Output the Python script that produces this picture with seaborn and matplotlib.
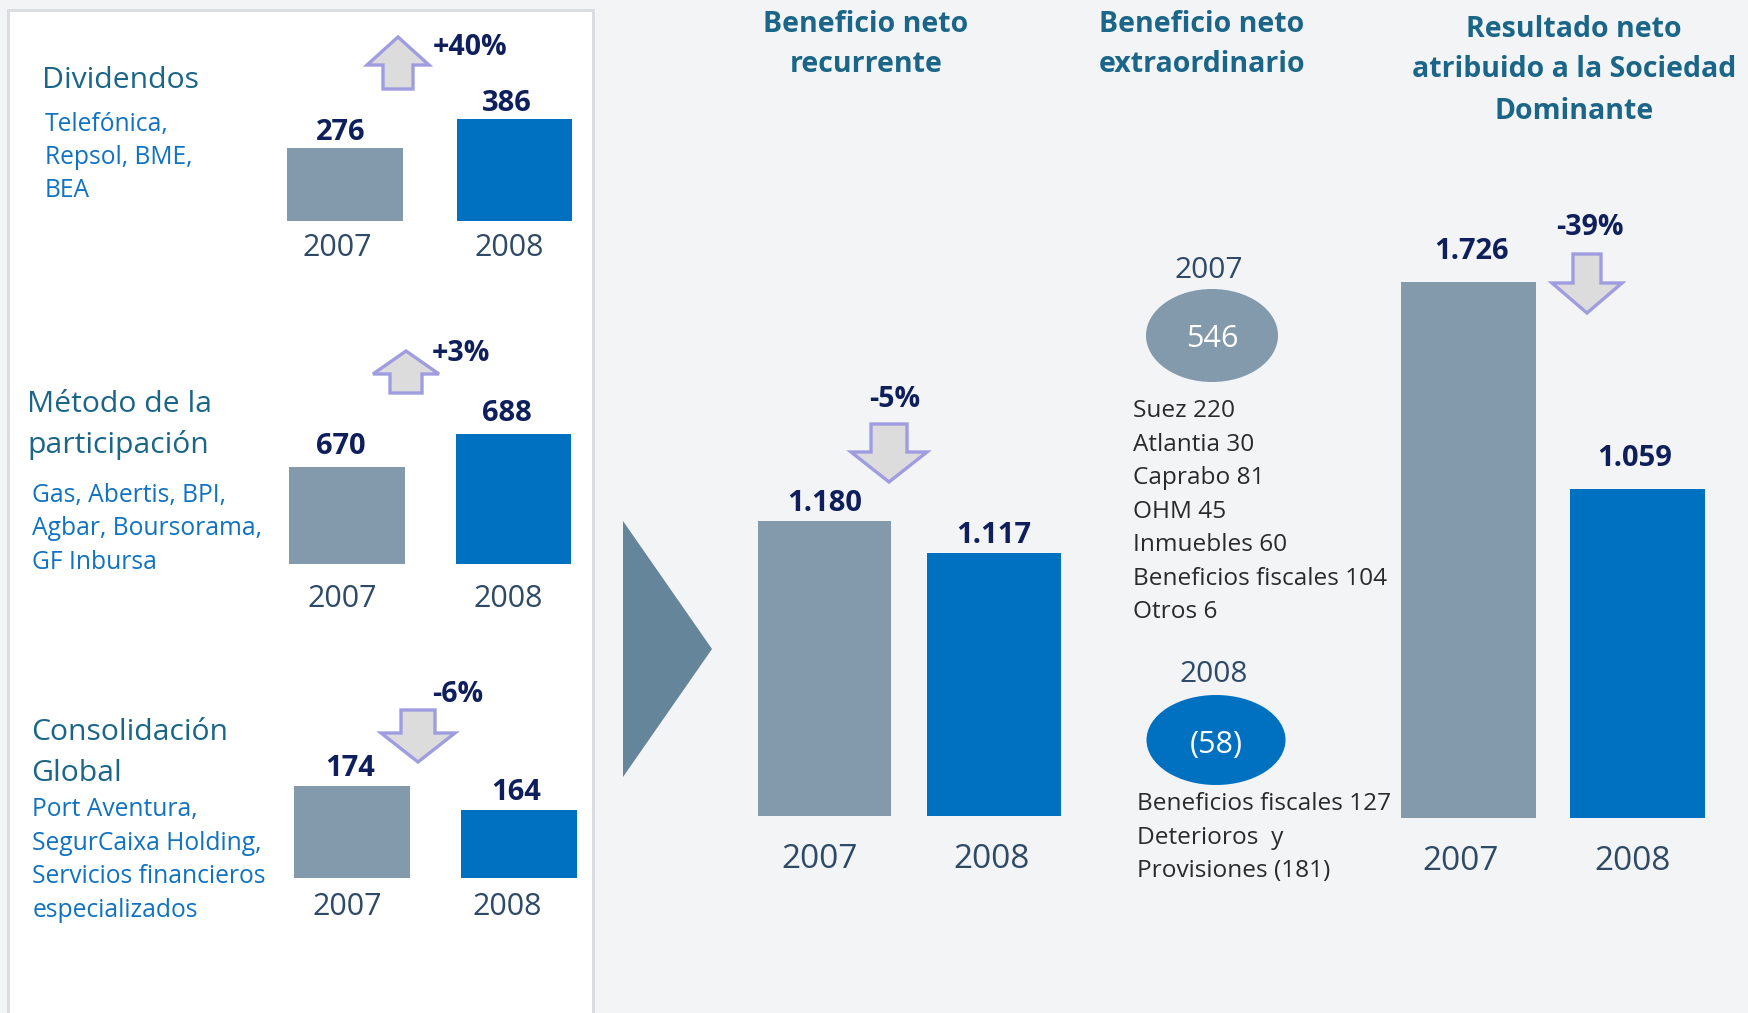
import matplotlib
matplotlib.use("Agg")
import matplotlib.pyplot as plt
import matplotlib.transforms as mtransforms
import seaborn as sns
import pandas as pd
from matplotlib.patches import Rectangle, Polygon, Ellipse

# ---------------- data ----------------
years = ["2007", "2008"]
dividendos = [276, 386]
metodo_participacion = [670, 688]
consolidacion_global = [174, 164]
beneficio_recurrente = [1180, 1117]
resultado_neto = [1726, 1059]
beneficio_extraordinario = [546, -58]

dividendos_title = ["Dividendos"]
dividendos_companies = ["Telefónica,", "Repsol, BME,", "BEA"]
metodo_title = ["Método de la", "participación"]
metodo_companies = ["Gas, Abertis, BPI,", "Agbar, Boursorama,", "GF Inbursa"]
consolidacion_title = ["Consolidación", "Global"]
consolidacion_companies = ["Port Aventura,", "SegurCaixa Holding,",
                           "Servicios financieros", "especializados"]
recurrente_title = ["Beneficio neto", "recurrente"]
extraordinario_title = ["Beneficio neto", "extraordinario"]
resultado_title = ["Resultado neto", "atribuido a la Sociedad", "Dominante"]
extra_detail_2007 = ["Suez 220", "Atlantia 30", "Caprabo 81", "OHM 45",
                     "Inmuebles 60", "Beneficios fiscales 104", "Otros 6"]
extra_detail_2008 = ["Beneficios fiscales 127", "Deterioros  y", "Provisiones (181)"]

# ---------------- style ----------------
GREY = "#8399AC"
BLUE = "#0070C0"
NAVY = "#0F1F5C"
YEARC = "#2F4A66"
TEAL = "#1B6688"
COMP = "#1072C0"
DARK = "#2A2A2A"
BG = "#F2F4F6"
ARROW_FACE = "#DCDCDC"
ARROW_EDGE = "#9F9DE0"

sns.set_theme(style="white")
plt.rcParams["font.family"] = ["Open Sans", "DejaVu Sans"]

W, H = 1749, 1013
fig = plt.figure(figsize=(W / 100, H / 100), dpi=100)
fig.patch.set_facecolor(BG)


def overlay(z):
    ax = fig.add_axes([0, 0, 1, 1], zorder=z)
    ax.set_xlim(0, W)
    ax.set_ylim(H, 0)
    ax.axis("off")
    return ax


back = overlay(0)
front = overlay(3)

# left white panel
back.add_patch(Rectangle((8, 10), 585, 1020, facecolor="white",
                         edgecolor="#D8DBDF", lw=2))
# chevron triangle
back.add_patch(Polygon([(623, 521), (712, 649), (623, 777)], closed=True,
                       facecolor="#64859A", edgecolor="none"))


def es_fmt(v):
    return f"{v:,.0f}".replace(",", ".")


def pct_label(vals):
    p = round((vals[1] / vals[0] - 1) * 100)
    return f"{p:+d}%"


def bar_panel(values, ca, cb, base, k, v0, hpx, wf, lab_pad, tick_pad,
              vsize, ysize, year_dx, val_dx):
    d = cb - ca
    left = ca - 0.5 * d
    ax = fig.add_axes([left / W, 1 - base / H, 2 * d / W, hpx / H], zorder=2)
    df = pd.DataFrame({"Año": years, "Valor": values})
    sns.barplot(data=df, x="Año", y="Valor", hue="Año", order=years,
                hue_order=years, palette={years[0]: GREY, years[1]: BLUE},
                width=wf, legend=False, ax=ax, linewidth=0, saturation=1)
    ax.set_xlim(-0.5, 1.5)
    ax.set_ylim(v0, v0 + hpx / k)
    for c, dx in zip(ax.containers, val_dx):
        anns = ax.bar_label(c, fmt=es_fmt, padding=lab_pad, fontsize=vsize,
                            fontweight="bold", color=NAVY)
        for a in anns:
            a.xyann = (dx / 1.389, lab_pad)
    ax.tick_params(axis="x", length=0, pad=tick_pad, labelsize=ysize,
                   labelcolor=YEARC)
    ax.set_yticks([])
    ax.set_xlabel("")
    ax.set_ylabel("")
    for s in ax.spines.values():
        s.set_visible(False)
    ax.patch.set_alpha(0)
    for lab, dx in zip(ax.get_xticklabels(), year_dx):
        off = mtransforms.ScaledTranslation(dx / 100, 0, fig.dpi_scale_trans)
        lab.set_transform(lab.get_transform() + off)
    return ax


bar_panel(dividendos, 345, 514.5, 221, 0.2643, 0, 200, 0.681, 1, 8.7, 21, 22,
          (-8, -5.5), (-4.5, -7.5))
bar_panel(metodo_participacion, 347, 513.5, 564, 1.833, 617.1, 200, 0.694, 4, 14.5, 21, 22,
          (-4.5, -5.5), (-6.4, -6.5))
bar_panel(consolidacion_global, 352, 519, 878, 2.4, 135.67, 200, 0.689, 2, 10.2, 21, 22,
          (-4.5, -12), (-2, -2.4))
bar_panel(beneficio_recurrente, 824.5, 994, 816, 0.5079, 599.2, 400, 0.788, 2.4, 19.4, 21, 24,
          (-4.5, -2), (0, 0))
bar_panel(resultado_neto, 1468.5, 1637.5, 818, 0.3106, 0, 600, 0.793, 11.7, 19.4, 21, 24,
          (-7.5, -4.5), (2.5, -2.5))


def block_arrow(cx, tail, head, tip, hh, sh):
    pts = [(cx - sh, tail), (cx - sh, head), (cx - hh, head), (cx, tip),
           (cx + hh, head), (cx + sh, head), (cx + sh, tail)]
    front.add_patch(Polygon(pts, closed=True, facecolor=ARROW_FACE,
                            edgecolor=ARROW_EDGE, lw=2.4, joinstyle="miter"))


def change_marker(vals, cx, top, bottom, hh, sh, head_len, lx, ly, ha):
    if vals[1] >= vals[0]:
        block_arrow(cx, bottom, top + head_len, top, hh, sh)
    else:
        block_arrow(cx, top, bottom - head_len, bottom, hh, sh)
    front.text(lx, ly, pct_label(vals), ha=ha, va="baseline", fontsize=20.5,
               fontweight="bold", color=NAVY)


change_marker(dividendos, 398, 37, 89, 31, 15, 28, 433, 55, "left")
change_marker(metodo_participacion, 406, 351, 393, 33, 16, 23, 432, 361, "left")
change_marker(consolidacion_global, 418, 710, 762, 37, 17, 29, 432, 702, "left")
change_marker(beneficio_recurrente, 889, 424, 482, 38, 18, 30, 895, 407, "center")
change_marker(resultado_neto, 1587, 254, 313, 35, 14, 30, 1590, 235, "center")


def lines(x, baselines, texts, size, color, weight="normal", ha="left"):
    for y, t in zip(baselines, texts):
        front.text(x, y, t, ha=ha, va="baseline", fontsize=size,
                   fontweight=weight, color=color)


# left panel texts
lines(42, [88], dividendos_title, 21.7, TEAL)
lines(45, [131, 164, 197], dividendos_companies, 17.7, COMP)
lines(27.5, [412, 453], metodo_title, 21.7, TEAL)
lines(32.5, [502, 535, 569], metodo_companies, 17.7, COMP)
lines(31, [740, 781], consolidacion_title, 21.7, TEAL)
lines(32.5, [816, 850, 883, 917], consolidacion_companies, 17.7, COMP)

# right titles
lines(866, [32, 72], recurrente_title, 20.5, TEAL, "bold", "center")
lines(1202, [32, 72], extraordinario_title, 20.5, TEAL, "bold", "center")
lines(1574, [37, 77, 119], resultado_title, 20.5, TEAL, "bold", "center")


# extraordinary column
def extra_fmt(v):
    return f"({abs(v)})" if v < 0 else es_fmt(v)


front.text(1209, 278, years[0], ha="center", va="baseline", fontsize=21.5, color=YEARC)
front.add_patch(Ellipse((1212, 335.5), 132, 93, facecolor=GREY, edgecolor="none"))
front.text(1212, 347, extra_fmt(beneficio_extraordinario[0]), ha="center",
           va="baseline", fontsize=22, color="white")
lines(1133, [417 + 33.5 * i for i in range(len(extra_detail_2007))],
      extra_detail_2007, 17.6, DARK)

front.text(1214, 682, years[1], ha="center", va="baseline", fontsize=21.5, color=YEARC)
front.add_patch(Ellipse((1216, 740), 139, 90, facecolor=BLUE, edgecolor="none"))
front.text(1216, 753, extra_fmt(beneficio_extraordinario[1]), ha="center",
           va="baseline", fontsize=22, color="white")
lines(1137, [810, 844, 877], extra_detail_2008, 17.6, DARK)

fig.savefig("out.png", dpi=100, facecolor=BG)
